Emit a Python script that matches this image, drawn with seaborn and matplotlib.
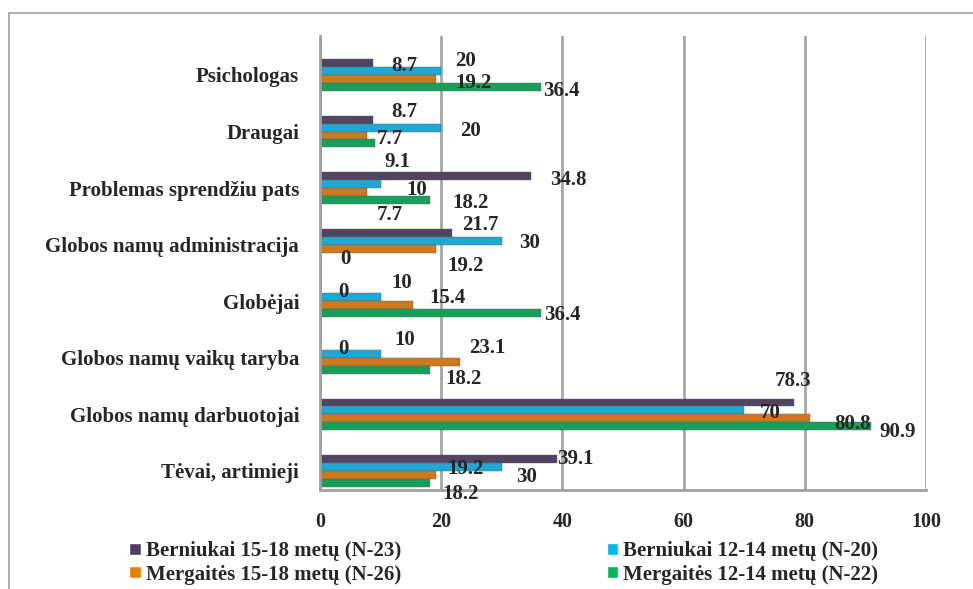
import matplotlib
matplotlib.use("Agg")
import matplotlib.pyplot as plt
from matplotlib.patches import Rectangle, Patch
import numpy as np
import pandas as pd
import seaborn as sns

categories = [
    "Psichologas",
    "Draugai",
    "Problemas sprendžiu pats",
    "Globos namų administracija",
    "Globėjai",
    "Globos namų vaikų taryba",
    "Globos namų darbuotojai",
    "Tėvai, artimieji",
]
series_names = [
    "Berniukai 15-18 metų (N-23)",
    "Berniukai 12-14 metų (N-20)",
    "Mergaitės 15-18 metų (N-26)",
    "Mergaitės 12-14 metų (N-22)",
]
berniukai_15_18 = [8.7, 8.7, 34.8, 21.7, 0, 0, 78.3, 39.1]
berniukai_12_14 = [20, 20, 10, 30, 10, 10, 70, 30]
mergaites_15_18 = [19.2, 7.7, 7.7, 19.2, 15.4, 23.1, 80.8, 19.2]
mergaites_12_14 = [36.4, 9.1, 18.2, 0, 36.4, 18.2, 90.9, 18.2]
x_ticks = [0, 20, 40, 60, 80, 100]

colors = ["#4f3f66", "#00b8f0", "#e87d00", "#00b55a"]

# where excel put each data label, relative to the bar end (px right, px down)
label_dx = [
    [32, 32, 37, 29, 23, 23, -1, 18],
    [24, 29, 36, 28, 21, 24, 26, 25],
    [37, 23, 23, 29, 34, 27, 43, 29],
    [21, 22, 40, 25, 22, 33, 27, 30],
]
label_dy = [
    [3, -8, 4, -8, 3, 3, -22, 0],
    [-10, 3, 6, 2, -14, -14, 3, 10],
    [4, 3, 23, 17, -7, -14, 6, -6],
    [4, 19, 3, 2, 2, 9, 6, 11],
]

rows = []
for name, vals in zip(series_names, [berniukai_15_18, berniukai_12_14,
                                     mergaites_15_18, mergaites_12_14]):
    for cat, v in zip(categories, vals):
        rows.append({"Kategorija": cat, "Serija": name, "Reiksme": v})
df = pd.DataFrame(rows)

sns.set_style("white")
plt.rcParams["font.family"] = ["Liberation Serif", "DejaVu Serif"]
plt.rcParams["font.weight"] = "bold"

fig = plt.figure(figsize=(9.73, 5.89), dpi=100)
# outer frame like the excel chart area
fig.patches.append(Rectangle((9 / 973, -0.1), 1.2, 1 - 13 / 589 + 0.1,
                             transform=fig.transFigure, fill=False,
                             edgecolor="#a0a0a0", linewidth=1.2))

ax = fig.add_axes([320 / 973, 1 - 490 / 589, 606 / 973, 454 / 589])
sns.barplot(data=df, y="Kategorija", x="Reiksme", hue="Serija",
            hue_order=series_names, order=categories, palette=colors,
            orient="h", width=0.56, ax=ax, legend=False,
            edgecolor="#606060", linewidth=0.3)

# 3d look in excel pushes the bars a bit below the category slots
ax.set_xlim(0, 100)
ax.set_ylim(7.336, -0.689)
ax.set_xticks(x_ticks)
ax.set_xticklabels([str(t) for t in x_ticks], fontsize=14.5, fontweight="bold")
ax.set_yticks(range(len(categories)))
ax.set_yticklabels(categories, fontsize=15, fontweight="bold")
ax.set_yticks(np.arange(-0.583, 7.3, 1), minor=True)
ax.tick_params(axis="y", which="major", length=0, pad=15)
ax.tick_params(axis="y", which="minor", length=5, color="#a0a0a0", width=1.5)
ax.tick_params(axis="x", length=5, color="#a0a0a0", width=1.5, pad=11)
ax.set_xlabel("")
ax.set_ylabel("")

ax.xaxis.grid(True, color="#a6a6a6", linewidth=2)
ax.set_axisbelow(True)
for side in ["top", "right"]:
    ax.spines[side].set_visible(False)
for side in ["left", "bottom"]:
    ax.spines[side].set_color("#a0a0a0")
    ax.spines[side].set_linewidth(2)

for s, cont in enumerate(ax.containers):
    for i, bar in enumerate(cont):
        w = bar.get_width()
        y = bar.get_y() + bar.get_height() / 2
        ax.annotate(f"{w:g}", xy=(w, y), xytext=(label_dx[s][i], -label_dy[s][i]),
                    textcoords="offset pixels", ha="center", va="center",
                    fontsize=15, fontweight="bold", annotation_clip=False)

handles = [Patch(facecolor=c) for c in colors]
order = [0, 2, 1, 3]
fig.legend([handles[i] for i in order], [series_names[i] for i in order],
           ncol=2, loc="upper left", bbox_to_anchor=(119 / 973, 1 - 531 / 589),
           frameon=False, prop={"weight": "bold", "size": 15},
           handlelength=0.55, handleheight=0.55, handletextpad=0.25,
           columnspacing=9.85, labelspacing=0.15, borderpad=0)

fig.savefig("out.png", dpi=100)
